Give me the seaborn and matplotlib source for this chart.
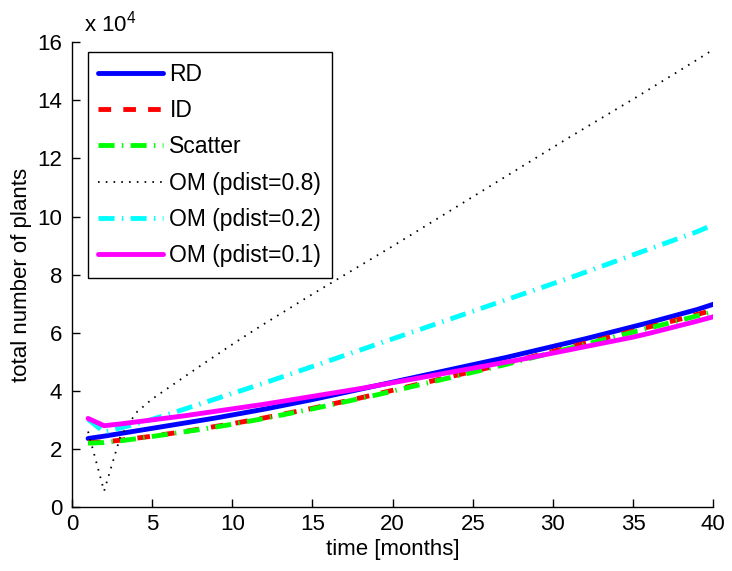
import numpy as np
import pandas as pd
import matplotlib
matplotlib.use("Agg")
import matplotlib.pyplot as plt
import seaborn as sns

# ── Data (total number of plants, in units of 10^4) ───────────────────────────
months = list(range(1, 41))

rd = [2.36, 2.44, 2.53, 2.62, 2.71, 2.80, 2.89, 2.98, 3.07, 3.17,
      3.27, 3.37, 3.48, 3.59, 3.70, 3.82, 3.94, 4.06, 4.18, 4.30,
      4.42, 4.54, 4.66, 4.78, 4.90, 5.02, 5.14, 5.27, 5.40, 5.53,
      5.66, 5.79, 5.93, 6.07, 6.21, 6.35, 6.50, 6.65, 6.80, 6.98]

id_ = [2.22, 2.24, 2.30, 2.37, 2.44, 2.52, 2.60, 2.69, 2.78, 2.87,
       2.97, 3.07, 3.18, 3.29, 3.40, 3.52, 3.64, 3.76, 3.89, 4.02,
       4.15, 4.28, 4.41, 4.54, 4.67, 4.80, 4.94, 5.08, 5.22, 5.36,
       5.50, 5.64, 5.78, 5.92, 6.06, 6.20, 6.34, 6.48, 6.63, 6.78]

scatter = [2.20, 2.22, 2.28, 2.35, 2.43, 2.51, 2.59, 2.67, 2.76, 2.85,
           2.95, 3.05, 3.16, 3.27, 3.38, 3.50, 3.62, 3.74, 3.86, 3.99,
           4.12, 4.25, 4.38, 4.51, 4.64, 4.77, 4.90, 5.04, 5.18, 5.32,
           5.46, 5.60, 5.74, 5.88, 6.02, 6.16, 6.30, 6.44, 6.58, 6.73]

om_08 = [2.60, 0.55, 2.40, 3.25, 3.72, 4.10, 4.48, 4.86, 5.23, 5.60,
         5.96, 6.31, 6.65, 6.99, 7.33, 7.66, 7.99, 8.32, 8.65, 8.98,
         9.32, 9.66, 10.00, 10.34, 10.68, 11.02, 11.36, 11.70, 12.04, 12.38,
         12.72, 13.05, 13.38, 13.71, 14.04, 14.38, 14.72, 15.06, 15.40, 15.75]

om_02 = [3.02, 2.58, 2.72, 2.86, 3.02, 3.19, 3.37, 3.55, 3.73, 3.91,
         4.09, 4.27, 4.46, 4.65, 4.84, 5.03, 5.22, 5.41, 5.60, 5.79,
         5.98, 6.17, 6.36, 6.55, 6.74, 6.93, 7.12, 7.31, 7.50, 7.69,
         7.88, 8.08, 8.28, 8.48, 8.68, 8.88, 9.08, 9.28, 9.48, 9.72]

om_01 = [3.05, 2.80, 2.86, 2.93, 3.00, 3.07, 3.14, 3.22, 3.30, 3.38,
         3.46, 3.54, 3.63, 3.72, 3.81, 3.90, 3.99, 4.08, 4.18, 4.28,
         4.38, 4.48, 4.58, 4.68, 4.78, 4.88, 4.98, 5.08, 5.19, 5.30,
         5.41, 5.52, 5.63, 5.74, 5.85, 5.98, 6.12, 6.26, 6.40, 6.55]

labels = ["RD", "ID", "Scatter", "OM (pdist=0.8)", "OM (pdist=0.2)", "OM (pdist=0.1)"]
series = [rd, id_, scatter, om_08, om_02, om_01]

x_ticks = [0, 5, 10, 15, 20, 25, 30, 35, 40]
y_ticks = [0, 2, 4, 6, 8, 10, 12, 14, 16]

# line styles, MATLAB look
styles = {
    "RD":             dict(color="#0000ff", lw=3.5, ls="-"),
    "ID":             dict(color="#ff0000", lw=3.5, ls=(0, (2.6, 2.5))),
    "Scatter":        dict(color="#00ff00", lw=3.5, ls=(0, (3.3, 1.5, 0.3, 1.5))),
    "OM (pdist=0.8)": dict(color="#000000", lw=1.3, ls=(0, (0.9, 3.4))),
    "OM (pdist=0.2)": dict(color="#00ffff", lw=3.5, ls=(0, (3.3, 1.5, 0.3, 1.5))),
    "OM (pdist=0.1)": dict(color="#ff00ff", lw=3.5, ls="-"),
}

df = pd.concat(
    [pd.DataFrame({"month": months, "plants": vals, "method": lab})
     for lab, vals in zip(labels, series)],
    ignore_index=True,
)

sns.set_style("white")
plt.rcParams["font.family"] = ["Liberation Sans", "DejaVu Sans"]
plt.rcParams["mathtext.fontset"] = "custom"
plt.rcParams["mathtext.rm"] = "Liberation Sans"
plt.rcParams["mathtext.it"] = "Liberation Sans"
plt.rcParams["text.color"] = "black"
plt.rcParams["axes.labelcolor"] = "black"

fig = plt.figure(figsize=(7.32, 5.71), dpi=100)
ax = fig.add_axes([0.0984, 0.112, 0.876, 0.814])

for lab in labels:
    st = styles[lab]
    sns.lineplot(
        data=df[df["method"] == lab], x="month", y="plants", ax=ax,
        color=st["color"], linewidth=st["lw"], linestyle=st["ls"],
        label=lab, estimator=None, errorbar=None,
    )

ax.set_xlim(0, 40)
ax.set_ylim(0, 16)
ax.set_xticks(x_ticks)
ax.set_yticks(y_ticks)
ax.set_xlabel("time [months]", fontsize=16, labelpad=3)
ax.set_ylabel("total number of plants", fontsize=16, labelpad=4)
ax.tick_params(direction="in", length=6, width=1, colors="black",
               labelsize=16, bottom=True, left=True)
ax.tick_params(axis="y", pad=7)
ax.tick_params(axis="x", pad=5)
sns.despine(ax=ax)
for sp in ("left", "bottom"):
    ax.spines[sp].set_color("black")
    ax.spines[sp].set_linewidth(1)

ax.text(0.019, 1.012, r"x 10$^{4}$", transform=ax.transAxes,
        ha="left", va="bottom", fontsize=16, color="black")

leg = ax.legend(loc="upper left", bbox_to_anchor=(0.025, 0.978),
                borderaxespad=0, fontsize=16.5, frameon=True, fancybox=False,
                framealpha=1, edgecolor="black", handlelength=2.8,
                handletextpad=0.3, labelspacing=0.58, borderpad=0.45)
leg.get_frame().set_linewidth(1)
for t in leg.get_texts():
    t.set_color("black")

fig.savefig("out.png", dpi=100)
